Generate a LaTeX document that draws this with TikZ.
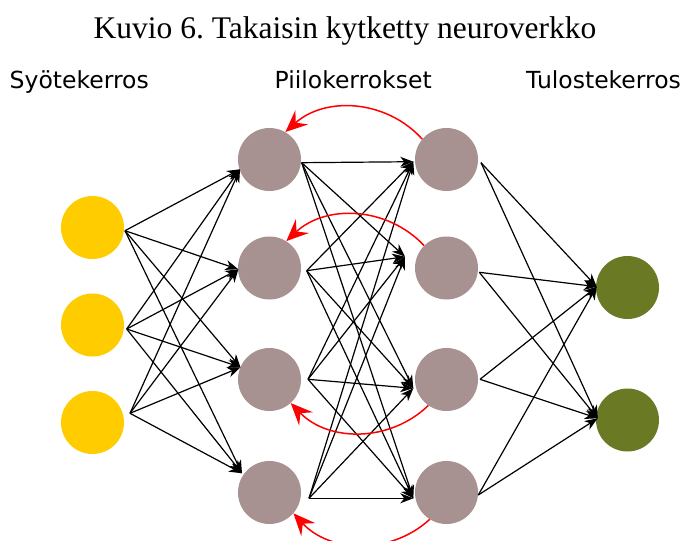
\documentclass[tikz,border=0pt]{standalone}
\usepackage{fontspec}
\setmainfont{Liberation Serif}
\newfontfamily\labelfont{DejaVu Sans}
\usetikzlibrary{arrows.meta}
\definecolor{inyellow}{RGB}{255,204,0}
\definecolor{hidmauve}{RGB}{168,145,145}
\definecolor{outolive}{RGB}{106,122,36}
\begin{document}
\frenchspacing
\begin{tikzpicture}[x=1pt,y=-1pt,
  neuron/.style={circle, inner sep=0pt, minimum size=63pt, draw=none},
  conn/.style={line width=1.2pt, -{Stealth[length=13pt,width=10pt,inset=4pt]}},
  feedback/.style={red, line width=1.5pt, -{Stealth[length=22pt,width=19pt,inset=8pt]}},
  layerlabel/.style={font=\labelfont\fontsize{23.5pt}{28pt}\selectfont, anchor=base west, inner sep=0pt},
  ]
\useasboundingbox (0,0) rectangle (686,541);

% title and labels
\node[font=\fontsize{31.5pt}{36pt}\selectfont, anchor=base, inner sep=0pt] (title) at (345,38.5) {Kuvio 6. Takaisin kytketty neuroverkko};
\node[layerlabel] (lin) at (9.5,88.3) {Syötekerros};
\node[layerlabel] (lhid) at (274.4,88.3) {Piilokerrokset};
\node[layerlabel] (lout) at (526,88.3) {Tulostekerros};

% neurons
\node[neuron, fill=inyellow] (i1) at (92.5,227.5) {};
\node[neuron, fill=inyellow] (i2) at (92.5,325) {};
\node[neuron, fill=inyellow] (i3) at (92.5,422.5) {};
\node[neuron, fill=hidmauve] (ha1) at (269.5,159.5) {};
\node[neuron, fill=hidmauve] (ha2) at (269.5,268) {};
\node[neuron, fill=hidmauve] (ha3) at (269.5,379.5) {};
\node[neuron, fill=hidmauve] (ha4) at (269.5,492.5) {};
\node[neuron, fill=hidmauve] (hb1) at (446.5,159.5) {};
\node[neuron, fill=hidmauve] (hb2) at (446.5,268) {};
\node[neuron, fill=hidmauve] (hb3) at (446.5,379.5) {};
\node[neuron, fill=hidmauve] (hb4) at (446.5,492.5) {};
\node[neuron, fill=outolive] (o1) at (627.5,287.5) {};
\node[neuron, fill=outolive] (o2) at (627.5,420) {};

% connection points
\coordinate (i1o) at (125,230.7);
\coordinate (i2o) at (126.7,329);
\coordinate (i3o) at (130,413.3);
\coordinate (ha1i) at (240,169.3);
\coordinate (ha2i) at (238.3,269.3);
\coordinate (ha3i) at (240.5,367.3);
\coordinate (ha4i) at (242,473.3);
\coordinate (ha1o) at (301.7,162.7);
\coordinate (ha2o) at (306.7,270.7);
\coordinate (ha3o) at (308,379.3);
\coordinate (ha4o) at (309,498.3);
\coordinate (hb1i) at (413.3,161.7);
\coordinate (hb2i) at (405,256.7);
\coordinate (hb3i) at (413.3,388.3);
\coordinate (hb4i) at (413.3,498.3);
\coordinate (hb1o) at (481,162.7);
\coordinate (hb2o) at (479.3,272.3);
\coordinate (hb3o) at (480,379.3);
\coordinate (hb4o) at (478.3,495);
\coordinate (o1i) at (596.7,286.7);
\coordinate (o2i) at (597.7,418.3);

% forward connections
\foreach \s in {i1o,i2o,i3o}
  \foreach \t in {ha1i,ha2i,ha3i,ha4i}
    \draw[conn] (\s) -- (\t);
\foreach \s in {ha1o,ha2o,ha3o,ha4o}
  \foreach \t in {hb1i,hb2i,hb3i,hb4i}
    \draw[conn] (\s) -- (\t);
\foreach \s in {hb1o,hb2o,hb3o,hb4o}
  \foreach \t in {o1i,o2i}
    \draw[conn] (\s) -- (\t);

% feedback connections
\draw[feedback] (hb1.140) to[bend right=45] (ha1.60);
\draw[feedback] (hb2.135) to[bend right=45] (ha2.58);
\draw[feedback] (hb3.-125) to[bend left=45] (ha3.-48);
\draw[feedback] (hb4.-122) to[bend left=45] (ha4.-41);
\end{tikzpicture}
\end{document}
